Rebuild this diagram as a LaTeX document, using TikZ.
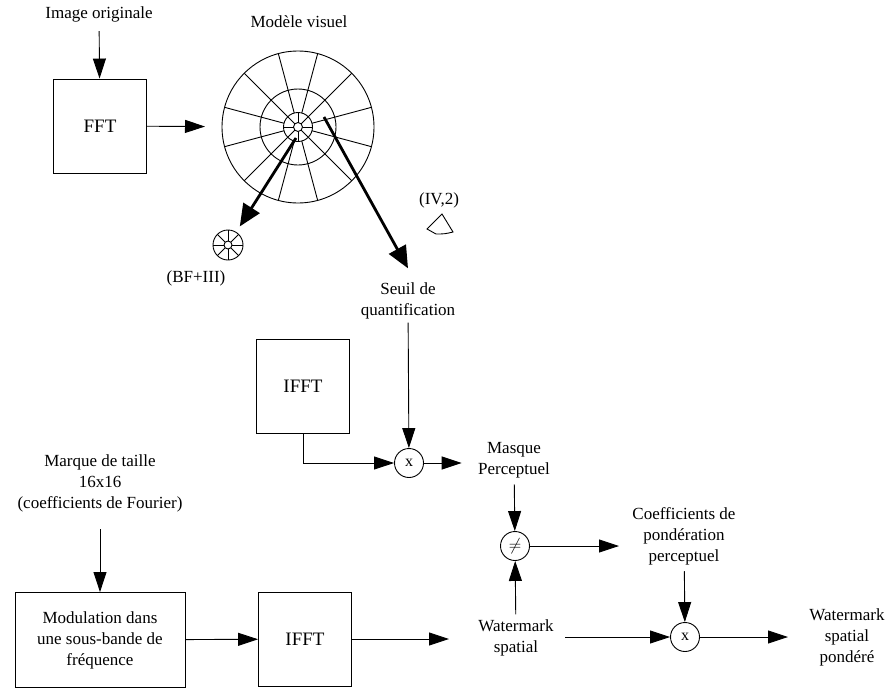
\documentclass[tikz,border=0pt]{standalone}
\usepackage{fontspec}
\setmainfont{Liberation Serif}
\usetikzlibrary{arrows.meta}

\tikzset{
  lbl/.style={align=center, inner sep=1pt, font=\fontsize{17}{21}\selectfont},
  bloc/.style={draw, minimum width=93pt, minimum height=94pt, inner sep=0pt, align=center, font=\fontsize{19}{23}\selectfont},
  op/.style={draw, circle, minimum size=29pt, inner sep=0pt, font=\fontsize{16}{18}\selectfont},
  fl/.style={-{Triangle[length=20pt,width=13pt]}},
  gros/.style={line width=2.8pt, -{Triangle[length=22pt,width=19pt]}}
}

\begin{document}
\begin{tikzpicture}[x=1pt, y=-1pt, line width=0.9pt]
\useasboundingbox (0,0) rectangle (889,688);
\node[lbl] (img) at (99,14) {Image originale};
\node[bloc] (fft) at (100,126) {FFT};
\draw[fl, shorten <=8pt] (img) -- (fft);
\node[lbl] (modele) at (299,22) {Modèle visuel};
\coordinate (disque) at (298,127);
\draw (disque) circle (76pt) (disque) circle (38pt) (disque) circle (14.5pt) (disque) circle (4.5pt);
\foreach \a in {15,45,...,345}
  \draw ([shift={(\a:14.5pt)}]disque) -- ([shift={(\a:76pt)}]disque);
\foreach \a in {0,45,...,315}
  \draw ([shift={(\a:4.5pt)}]disque) -- ([shift={(\a:14.5pt)}]disque);
\draw[fl, shorten >=93pt] (fft) -- (disque);
\coordinate (bf) at (228,245);
\draw (bf) circle (15pt) (bf) circle (4pt);
\foreach \a in {0,45,...,315}
  \draw ([shift={(\a:4pt)}]bf) -- ([shift={(\a:15pt)}]bf);
\node[lbl] (bflbl) at (196,278) {(BF+III)};
\node[lbl] (ivlbl) at (439,200) {(IV,2)};
\draw (442,214) -- (453,232) to[bend left=8] (436,234) -- (427,229) -- cycle;
\node[lbl] (seuil) at (408,301) {Seuil de\\quantification};
\draw[gros, shorten >=22pt] ([shift={(-2pt,-11pt)}]disque) -- (bf);
\draw[gros] ([shift={(26pt,10pt)}]disque) -- ([yshift=13pt]seuil.north);
\node[bloc] (ifft1) at (303,386) {IFFT};
\node[op] (mul1) at (409,463) {x};
\draw[fl, shorten <=2pt] (seuil) -- (mul1);
\draw[fl] (ifft1) |- (mul1);
\node[lbl] (masque) at (514,460) {Masque\\Perceptuel};
\draw[fl, shorten >=15pt] (mul1) -- (mul1 -| masque.west);
\node[op] (diff) at (515,546) {$\neq$};
\draw[fl, shorten <=5pt] (masque) -- (diff);
\node[lbl] (wms) at (516,638) {Watermark\\spatial};
\draw[fl, shorten <=4pt] (wms) -- (diff);
\node[lbl] (coef) at (684,536) {Coefficients de\\pondération\\perceptuel};
\draw[fl, shorten >=12pt] (diff) -- (diff -| coef.west);
\node[op] (mul2) at (685,637) {x};
\draw[fl, shorten <=5pt] (coef) -- (mul2);
\draw[fl, shorten <=10pt] (wms.east |- mul2) -- (mul2);
\node[lbl] (wmp) at (847,637) {Watermark\\spatial\\pondéré};
\draw[fl, shorten >=20pt] (mul2) -- (mul2 -| wmp.west);
\node[lbl] (marque) at (100,483) {Marque de taille\\16x16\\(coefficients de Fourier)};
\node[bloc, minimum width=170pt, minimum height=95pt, font=\fontsize{17}{21}\selectfont] (modul) at (100,640) {Modulation dans\\une sous-bande de\\fréquence};
\node[bloc] (ifft2) at (305,639) {IFFT};
\draw[fl, shorten <=16pt] (marque) -- (modul);
\draw[fl] (modul) -- (ifft2);
\draw[fl, shorten >=28pt] (ifft2) -- (ifft2 -| wms.west);
\end{tikzpicture}
\end{document}
